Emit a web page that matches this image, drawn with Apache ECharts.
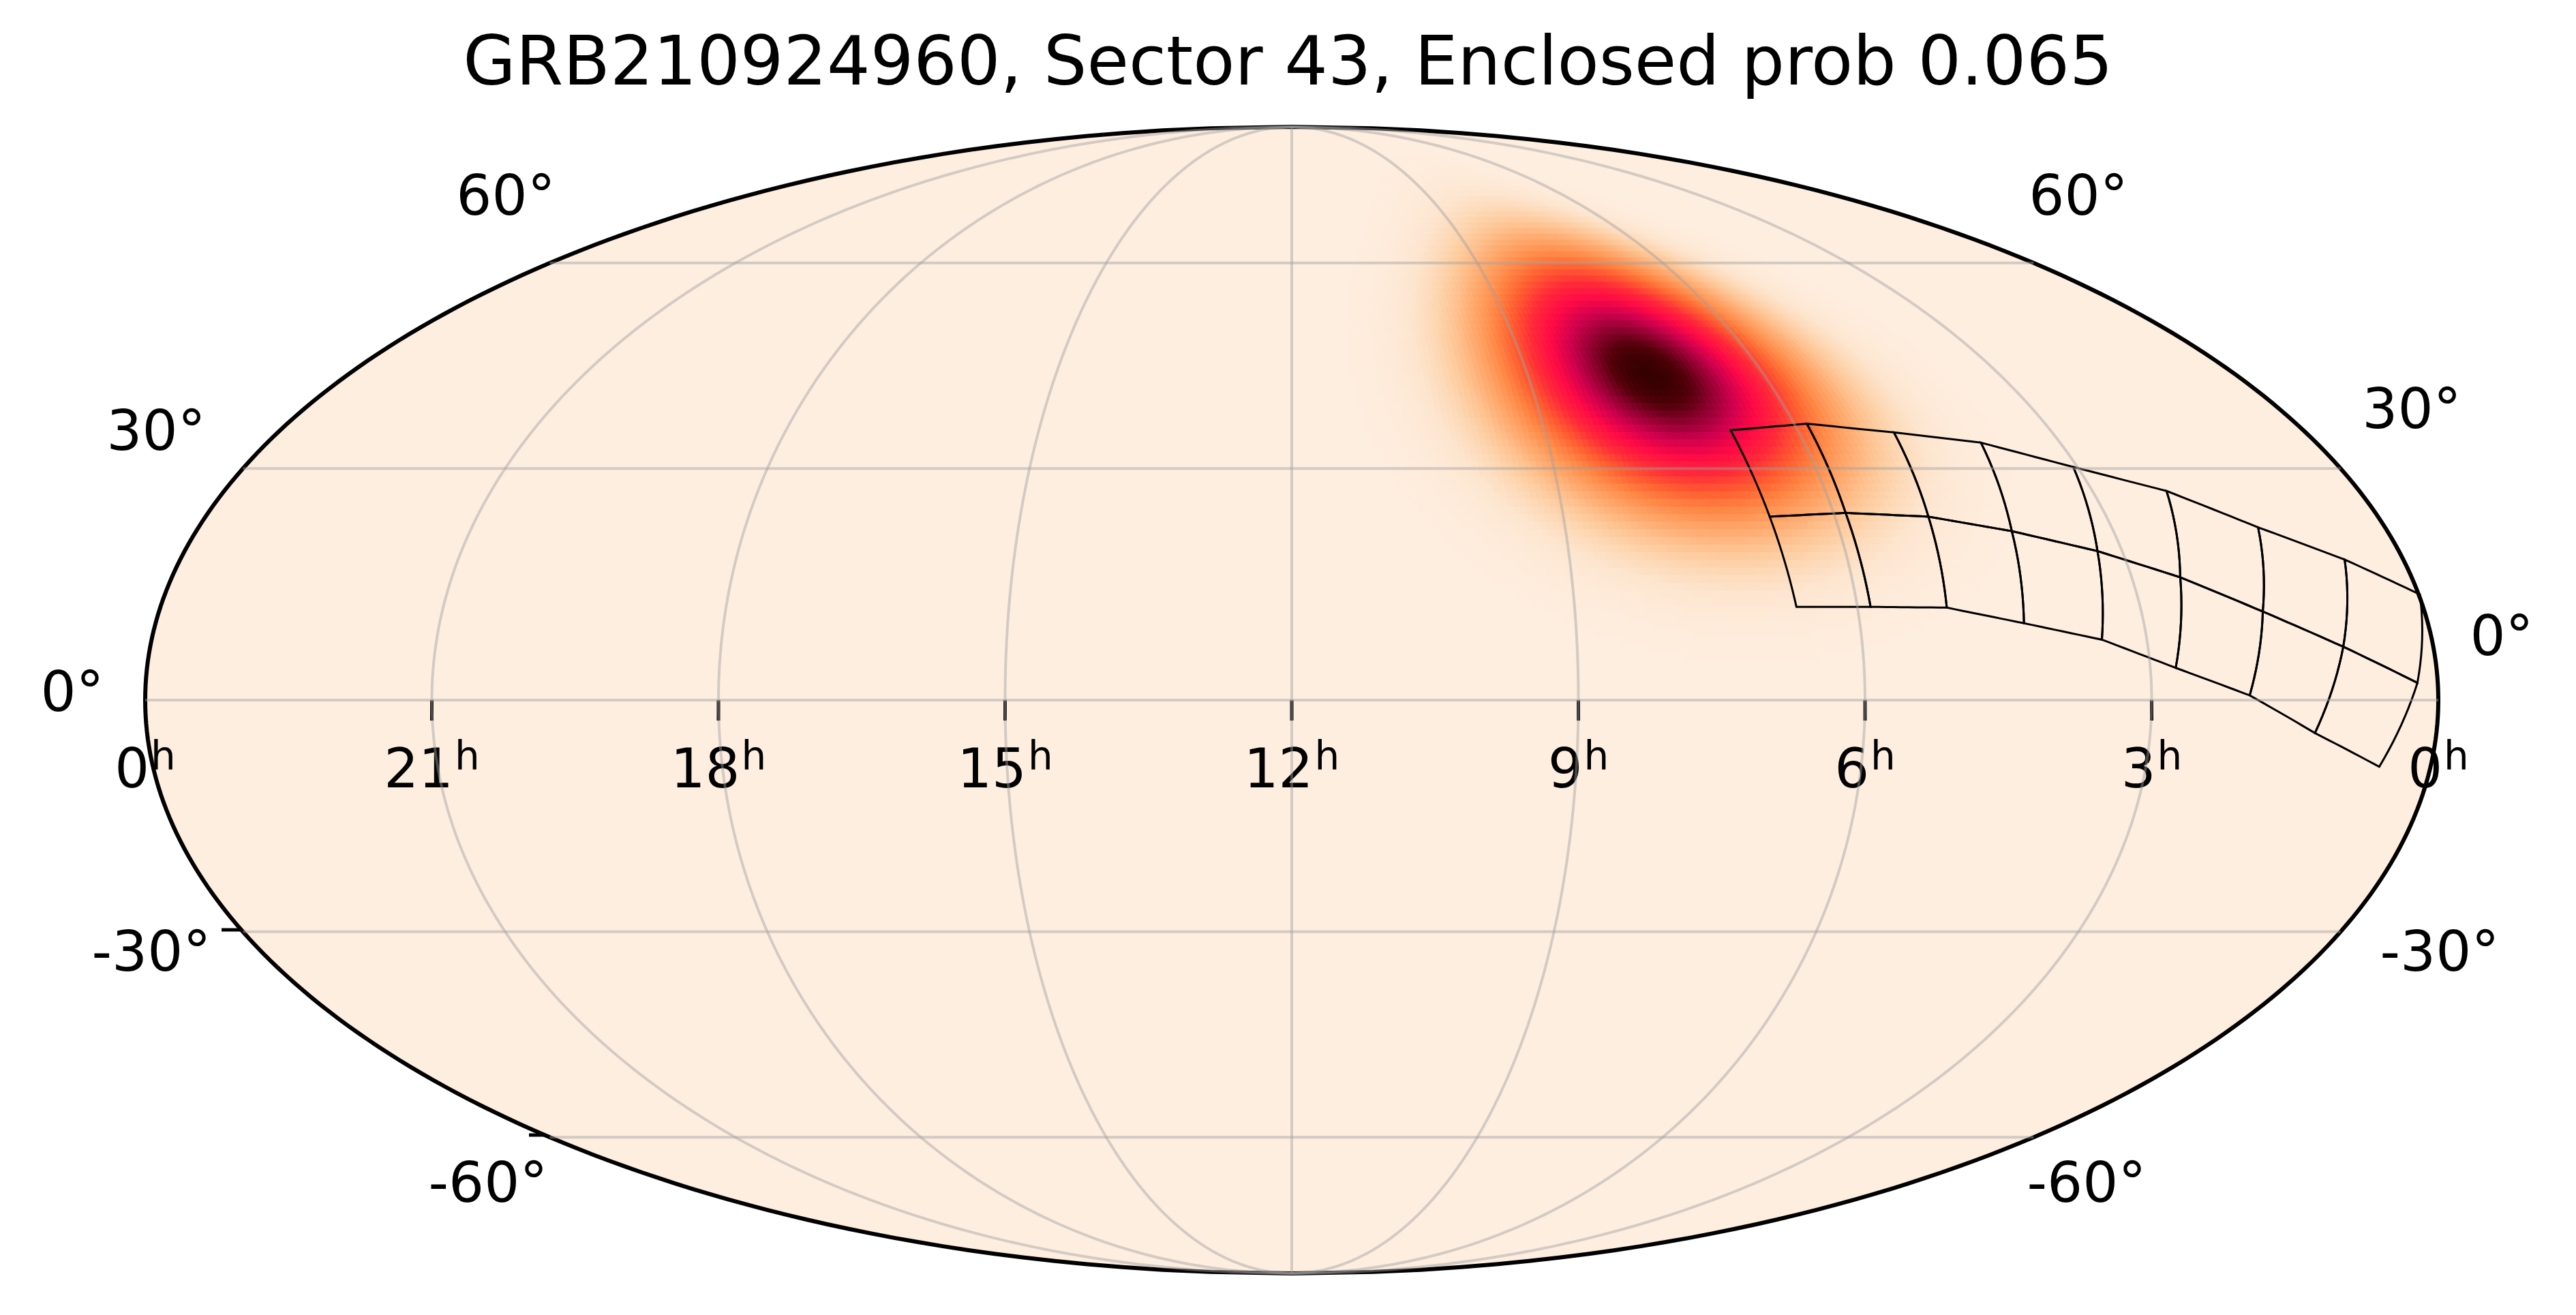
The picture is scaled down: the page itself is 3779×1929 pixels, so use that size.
<!DOCTYPE html>
<html>
<head>
<meta charset="utf-8">
<script src="https://cdn.jsdelivr.net/npm/echarts@6/dist/echarts.min.js"></script>
<style>
html,body{margin:0;padding:0;background:#fff;}
#main{width:3779px;height:1929px;}
</style>
</head>
<body>
<div id="main"></div>
<script>
// 标题与刻度
var titleText = 'GRB210924960, Sector 43, Enclosed prob 0.065';
var raTicks = [180, 135, 90, 45, 0, -45, -90, -135, -180]; // 经度 lambda
var raLabels = ['0', '3', '6', '9', '12', '15', '18', '21', '0'];
var decLines = [-60, -30, 0, 30, 60];
var decLabels = ['60°', '30°', '0°', '-30°', '-60°'];
// 标签位置 (像素)
var decLabelLeft = [[742, 294], [229, 639], [106, 1022], [222, 1403], [716, 1742]];
var decLabelRight = [[3049, 294], [3538, 607], [3670, 940], [3579, 1403], [3061, 1742]];

// 概率分布 (从图上估计)
var blobCenter = [111.8, 43.0]; // RA, Dec
var blobSigma = [13.0, 11.5];   // 长轴, 短轴 (度)
var blobAngle = 22;             // 度
// 色标 [位置, 颜色]
var colorStops = [[0, '#feeee0'], [0.04, '#fde6d0'], [0.1, '#fdcfa4'], [0.18, '#feae74'], [0.28, '#ff8a48'],
	[0.38, '#ff6030'], [0.5, '#ff2a38'], [0.62, '#ff0a45'], [0.74, '#d0004e'], [0.85, '#900030'], [0.94, '#500008'], [1, '#350000']];

// TESS CCD 网格角点 [RA, Dec]: 上边, 中线, 下边
var ccdTop = [[101.9, 35.2], [87.7, 36.1], [73.1, 34.9], [58.9, 33.5], [45.7, 30.2], [32.5, 27.0], [20.9, 22.2], [9.5, 18.0], [359.8, 13.5]];
var ccdMid = [[100.8, 23.6], [88.0, 24.1], [74.5, 23.6], [61.7, 21.7], [49.0, 19.1], [37.2, 15.7], [25.7, 11.3], [14.2, 6.8], [3.2, 2.2]];
var ccdBot = [[99.7, 11.9], [87.9, 11.9], [75.8, 11.8], [64.0, 9.8], [52.1, 7.7], [41.0, 4.1], [29.6, 0.6], [19.1, -4.2], [8.1, -8.5]];

var S2 = Math.SQRT2;
// Mollweide 投影
function proj(ra, dec) {
	var lam = (180 - ra) * Math.PI / 180;
	var phi = dec * Math.PI / 180;
	var t = phi;
	var target = Math.PI * Math.sin(phi);
	for (var i = 0; i < 30; i++) {
		var f = 2 * t + Math.sin(2 * t) - target;
		var d = 2 + 2 * Math.cos(2 * t);
		if (Math.abs(d) < 1e-9) break;
		t -= f / d;
	}
	return [2 * S2 / Math.PI * lam * Math.cos(t), S2 * Math.sin(t)];
}
function lamProj(lam, dec) { return proj(180 - lam, dec); }

// 等间隔色带
function hex2rgb(h) { return [parseInt(h.substr(1, 2), 16), parseInt(h.substr(3, 2), 16), parseInt(h.substr(5, 2), 16)]; }
var cmap = [];
for (var k = 0; k <= 50; k++) {
	var t = k / 50, j = 0;
	while (j < colorStops.length - 2 && colorStops[j + 1][0] < t) j++;
	var s0 = colorStops[j], s1 = colorStops[j + 1];
	var r = (t - s0[0]) / (s1[0] - s0[0]);
	var c0 = hex2rgb(s0[1]), c1 = hex2rgb(s1[1]);
	cmap.push('rgb(' + [0, 1, 2].map(function(q) { return Math.round(c0[q] + (c1[q] - c0[q]) * r); }).join(',') + ')');
}

// 外框
var outline = [];
for (var d = -90; d <= 90; d += 1) outline.push(lamProj(180, d));
for (var d = 90; d >= -90; d -= 1) outline.push(lamProj(-180, d));

// 网格线
var gridSeries = [];
raTicks.slice(1, -1).forEach(function(l) {
	var pts = [];
	for (var d = -90; d <= 90; d += 1) pts.push(lamProj(l, d));
	gridSeries.push(pts);
});
decLines.forEach(function(dd) {
	var pts = [];
	for (var l = -180; l <= 180; l += 2) pts.push(lamProj(l, dd));
	gridSeries.push(pts);
});

// 概率网格
var blobData = [];
var cosD = Math.cos(blobCenter[1] * Math.PI / 180);
var ca = Math.cos(blobAngle * Math.PI / 180), sa = Math.sin(blobAngle * Math.PI / 180);
for (var ra = 40; ra < 180; ra += 1) {
	for (var de = -10; de < 88; de += 1) {
		var u = (ra + 0.5 - blobCenter[0]) * cosD, v = de + 0.5 - blobCenter[1];
		var a = u * ca + v * sa, b = -u * sa + v * ca;
		var p = Math.exp(-0.5 * (a * a / (blobSigma[0] * blobSigma[0]) + b * b / (blobSigma[1] * blobSigma[1])));
		if (p > 0.005) blobData.push([ra, de, p]);
	}
}

// CCD 多边形
function unwrap(p) { return [p[0] > 300 ? p[0] - 360 : p[0], p[1]]; }
function edge(p, q, n) {
	var out = [];
	for (var i = 0; i <= n; i++) {
		var r = i / n;
		out.push(proj(p[0] + (q[0] - p[0]) * r, p[1] + (q[1] - p[1]) * r));
	}
	return out;
}
var ccdPolys = [];
[[ccdTop, ccdMid], [ccdMid, ccdBot]].forEach(function(rows) {
	for (var i = 0; i < 8; i++) {
		var a = unwrap(rows[0][i]), b = unwrap(rows[0][i + 1]), c = unwrap(rows[1][i + 1]), e = unwrap(rows[1][i]);
		ccdPolys.push([].concat(edge(a, b, 10), edge(b, c, 10), edge(c, e, 10), edge(e, a, 10)));
	}
});

var chart = echarts.init(document.getElementById('main'));

var series = [];
series.push({
	type: 'custom', silent: true, data: [0],
	renderItem: function(params, api) {
		return { type: 'polygon', shape: { points: outline.map(function(p) { return api.coord(p); }) }, style: { fill: '#feeee0', stroke: null } };
	}
});
series.push({
	type: 'custom', silent: true, data: blobData,
	renderItem: function(params, api) {
		var ra = api.value(0), de = api.value(1);
		var pts = [proj(ra, de), proj(ra + 1, de), proj(ra + 1, de + 1), proj(ra, de + 1)].map(function(p) { return api.coord(p); });
		var c = api.visual('color');
		return { type: 'polygon', shape: { points: pts }, style: { fill: c, stroke: c, lineWidth: 1 } };
	}
});
gridSeries.forEach(function(pts) {
	series.push({
		type: 'line', data: pts, showSymbol: false, silent: true, animation: false,
		lineStyle: { color: 'rgba(160,160,160,0.45)', width: 4 }
	});
});
series.push({
	type: 'custom', silent: true, data: ccdPolys.map(function(p, i) { return i; }),
	renderItem: function(params, api) {
		return {
			type: 'polygon',
			shape: { points: ccdPolys[params.dataIndex].map(function(p) { return api.coord(p); }) },
			style: { fill: null, stroke: '#000', lineWidth: 3 }
		};
	}
});
series.push({
	type: 'custom', silent: true, data: [0],
	renderItem: function(params, api) {
		return { type: 'polygon', shape: { points: outline.map(function(p) { return api.coord(p); }) }, style: { fill: null, stroke: '#000', lineWidth: 6 } };
	}
});
// RA 刻度与标签
series.push({
	type: 'scatter', silent: true, symbol: 'rect', symbolSize: [5, 30], symbolOffset: [0, 15],
	itemStyle: { color: '#000', opacity: 1 },
	emphasis: { disabled: true },
	data: raTicks.map(function(l, i) {
		var item = { value: lamProj(l, 0) };
		if (i == 0 || i == 8) item.symbolSize = [0.01, 30];
		return item;
	}),
	label: {
		show: true, position: 'bottom', distance: 28, opacity: 1,
		formatter: function(p) { return '{n|' + raLabels[p.dataIndex] + '}{h|h}'; },
		rich: {
			n: { fontSize: 80, fontFamily: 'DejaVu Sans', color: '#000' },
			h: { fontSize: 58, verticalAlign: 'top', padding: [0, 0, 40, 2], fontFamily: 'DejaVu Sans', color: '#000' }
		}
	}
});

var graphic = [{
	type: 'text', left: 'center', top: 48,
	style: { text: titleText, font: '100px "DejaVu Sans"', fill: '#000' }
}];
decLabels.forEach(function(t, i) {
	[decLabelLeft[i], decLabelRight[i]].forEach(function(p) {
		graphic.push({ type: 'text', x: p[0], y: p[1], style: { text: t, font: '82px "DejaVu Sans"', fill: '#000', align: 'center', verticalAlign: 'middle' } });
	});
});
graphic.push({ type: 'line', shape: { x1: 325, y1: 1364, x2: 356, y2: 1364 }, style: { stroke: '#000', lineWidth: 5 } });
graphic.push({ type: 'line', shape: { x1: 776, y1: 1665, x2: 807, y2: 1665 }, style: { stroke: '#000', lineWidth: 5 } });

chart.setOption({
	animation: false,
	grid: { left: 213, top: 186, width: 3364, height: 1682 },
	xAxis: { type: 'value', min: -2 * S2, max: 2 * S2, show: false },
	yAxis: { type: 'value', min: -S2, max: S2, show: false },
	visualMap: {
		show: false, type: 'continuous', min: 0, max: 1, dimension: 2, seriesIndex: 1,
		inRange: { color: cmap }
	},
	graphic: graphic,
	series: series
});
</script>
</body>
</html>
